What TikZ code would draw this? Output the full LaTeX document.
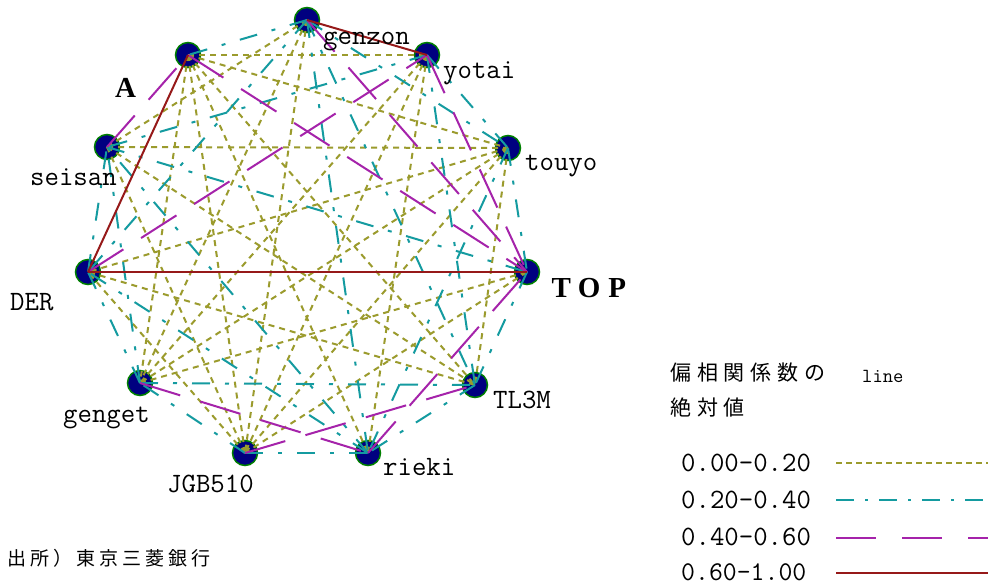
\documentclass[tikz,border=0pt]{standalone}
\usepackage{fontspec}
\newfontfamily\cjkf{Noto Sans CJK JP}
\newfontfamily\seriff{Liberation Serif}
\definecolor{cOl}{RGB}{155,155,45}
\definecolor{cCy}{RGB}{20,155,160}
\definecolor{cPu}{RGB}{165,35,170}
\definecolor{cRd}{RGB}{150,25,25}
\definecolor{cNv}{RGB}{0,0,128}
\definecolor{cGr}{RGB}{0,128,0}
\tikzset{
 vtx/.style={circle,fill=cNv,draw=cGr,line width=1.5pt,minimum size=25pt,inner sep=0pt},
 lab/.style={font=\ttfamily\fontsize{28}{28}\selectfont,anchor=base west,inner sep=0pt},
 bigserif/.style={font=\seriff\bfseries\fontsize{29}{29}\selectfont,anchor=base west,inner sep=0pt},
 jp/.style={anchor=west,inner sep=0pt},
 eO/.style={draw=cOl,line width=2pt,dash pattern=on 6pt off 5pt},
 eC/.style={draw=cCy,line width=2pt,dash pattern=on 18pt off 15pt on 4pt off 15pt},
 eP/.style={draw=cPu,line width=2pt,dash pattern=on 42pt off 21pt},
 eR/.style={draw=cRd,line width=2pt},
 lO/.style={draw=cOl,line width=2pt,dash pattern=on 6pt off 4pt},
 lC/.style={draw=cCy,line width=2pt,dash pattern=on 18pt off 11pt on 3pt off 11pt},
 lP/.style={draw=cPu,line width=2pt,dash pattern=on 40pt off 26pt},
}
\begin{document}
\begin{tikzpicture}[x=1pt,y=-1pt]
\useasboundingbox (0,0) rectangle (988,587);
\fill[white] (0,0) rectangle (988,587);
% vertices
\node[vtx] (G) at (307,20) {};
\node[vtx] (Y) at (427,55) {};
\node[vtx] (T) at (508,148) {};
\node[vtx] (P) at (527,272) {};
\node[vtx] (M) at (475,385) {};
\node[vtx] (R) at (368,453) {};
\node[vtx] (J) at (245,453) {};
\node[vtx] (E) at (140,383) {};
\node[vtx] (D) at (88,272) {};
\node[vtx] (S) at (107,147) {};
\node[vtx] (A) at (188,55) {};
% olive 0.00-0.20
\foreach \u/\v in {A/Y,S/T,A/J,A/E,G/J,A/M,T/M,E/P,Y/R,A/T,T/E,T/J,S/M,A/R,J/S,J/D,G/E,G/S,Y/J,Y/E,T/D,P/J,M/D}
  \draw[eO] (\u.center) -- (\v.center);
% cyan 0.20-0.40
\foreach \u/\v in {G/A,Y/T,T/P,D/S,E/D,E/S,J/E,M/R,E/M,J/R,G/T,G/M,S/P,Y/M,G/R,G/D,Y/S,R/S,R/D,P/M,T/R}
  \draw[eC] (\u.center) -- (\v.center);
% purple 0.40-0.60
\foreach \u/\v in {S/A,A/P,D/Y,G/P,Y/P,R/P,E/R,J/M}
  \draw[eP] (\u.center) -- (\v.center);
% red 0.60-1.00
\foreach \u/\v in {A/D,D/P,G/Y}
  \draw[eR] (\u.center) -- (\v.center);
% labels
\node[lab] (lG) at (323,44) {genzon};
\node[lab] (lY) at (443,78) {yotai};
\node[lab] (lT) at (525,170) {touyo};
\node[bigserif] (lP) at (547,297) {\makebox[28pt]{T}\makebox[28pt]{O}\makebox[28pt]{P}};
\node[lab] (lM) at (493,408) {TL3M};
\node[lab] (lR) at (383,475) {rieki};
\node[lab] (lJ) at (167,492) {JGB510};
\node[lab] (lE) at (63,422) {genget};
\node[lab] (lD) at (10,310) {DER};
\node[lab] (lS) at (30,185) {seisan};
\node[bigserif] (lA) at (115,97) {A};
% legend
\node[jp,font=\cjkf\fontsize{21}{21}\selectfont\addfontfeature{LetterSpace=28}] (h1) at (670,373) {偏相関係数の};
\node[anchor=base west,inner sep=0pt,font=\ttfamily\fontsize{20}{20}\selectfont] (h2) at (862,382) {line};
\node[jp,font=\cjkf\fontsize{21}{21}\selectfont\addfontfeature{LetterSpace=28}] (h3) at (670,408) {絶対値};
\node[lab] (t1) at (681,471) {0.00-0.20};
\node[lab] (t2) at (681,508) {0.20-0.40};
\node[lab] (t3) at (681,545) {0.40-0.60};
\node[lab,font=\ttfamily\fontsize{27}{27}\selectfont] (t4) at (681,580) {0.60-1.00};
\coordinate (a1) at (836,463); \coordinate (b1) at (988,463);
\coordinate (a2) at (836,500); \coordinate (b2) at (988,500);
\coordinate (a3) at (836,538); \coordinate (b3) at (988,538);
\coordinate (a4) at (836,573); \coordinate (b4) at (988,573);
\draw[lO] (a1) -- (b1);
\draw[lC] (a2) -- (b2);
\draw[lP] (a3) -- (b3);
\draw[eR] (a4) -- (b4);
% source
\node[jp,font=\cjkf\fontsize{19}{19}\selectfont\addfontfeature{LetterSpace=21}] (src) at (7,558) {出所）東京三菱銀行};
\end{tikzpicture}
\end{document}
